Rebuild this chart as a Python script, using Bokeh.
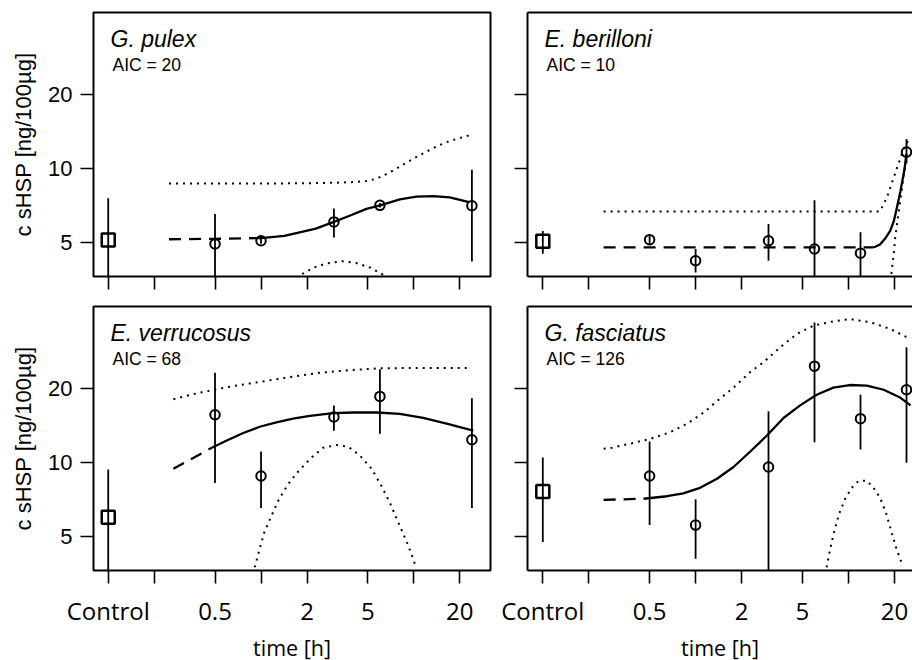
from bokeh.plotting import figure
from bokeh.layouts import column, row
from bokeh.models import FixedTicker, LogAxis, Label, Range1d
from bokeh.embed import file_html
from bokeh.resources import INLINE

# ---------------- data ----------------
control_x = 0.1
x_ticks = [0.1, 0.2, 0.5, 1, 2, 5, 10, 20]
x_tick_labels = ["Control", "", "0.5", "", "2", "5", "", "20"]
y_ticks = [5, 10, 20]
y_tick_labels = ["5", "10", "20"]

species = ["G. pulex", "E. berilloni", "E. verrucosus", "G. fasciatus"]
aic = [20, 10, 68, 126]

# G. pulex
gp_t = [0.5, 1, 3, 6, 24]
gp_mean = [4.94, 5.09, 6.07, 7.09, 7.06]
gp_lo = [3.0, 4.95, 5.25, 6.95, 4.19]
gp_hi = [6.54, 5.25, 6.89, 7.25, 9.9]
gp_ctrl = [5.13, 3.0, 7.57]  # mean, lo, hi
gp_dash_t = [0.25, 0.5, 1]
gp_dash_v = [5.16, 5.18, 5.22]
gp_fit_t = [1, 1.42, 1.79, 2.28, 3.0, 3.8, 4.9, 6.1, 8.1, 10.4, 13.4, 17.2, 23]
gp_fit_v = [5.22, 5.33, 5.50, 5.70, 6.07, 6.43, 6.86, 7.10, 7.50, 7.70, 7.73, 7.64, 7.30]
gp_up_t = [0.25, 0.5, 1, 2, 3, 4, 4.9, 5.7, 6.6, 7.7, 9, 10.5, 12, 14, 16.3, 19, 22.3, 24.5]
gp_up_v = [8.7, 8.7, 8.7, 8.72, 8.76, 8.82, 8.9, 9.1, 9.5, 10.0, 10.6, 11.2, 11.7, 12.3, 12.8, 13.2, 13.6, 13.6]
gp_low_t = [1.6, 1.85, 2.2, 2.7, 3.4, 4.2, 5.2, 6.2, 7.2]
gp_low_v = [3.4, 3.72, 3.95, 4.12, 4.2, 4.13, 3.95, 3.72, 3.45]

# E. berilloni
eb_t = [0.5, 1, 3, 6, 12, 24]
eb_mean = [5.14, 4.22, 5.09, 4.71, 4.53, 11.68]
eb_lo = [4.9, 3.78, 4.22, 3.0, 3.0, 10.5]
eb_hi = [5.4, 4.71, 5.96, 7.44, 5.51, 13.2]
eb_ctrl = [5.06, 4.5, 5.58]
eb_dash_t = [0.25, 14.5]
eb_dash_v = [4.78, 4.78]
eb_fit_t = [14.5, 15.0, 16.1, 17.3, 18.8, 19.8, 20.8, 21.9, 23.2, 24]
eb_fit_v = [4.78, 4.81, 4.91, 5.17, 5.59, 6.1, 6.97, 8.1, 9.8, 11.5]
eb_up_t = [0.25, 16.1, 17.9, 19.8, 21.4, 23.2, 24.8]
eb_up_v = [6.7, 6.7, 7.65, 9.2, 10.6, 12.2, 13.1]
eb_low_t = [19.1, 19.8, 20.3, 21.4, 22.3, 23.2, 24]
eb_low_v = [3.73, 4.5, 5.34, 6.74, 8.1, 9.7, 11.1]

# E. verrucosus
ev_t = [0.5, 1, 3, 6, 24]
ev_mean = [15.67, 8.82, 15.34, 18.6, 12.4]
ev_lo = [8.26, 6.54, 13.5, 13.1, 6.54]
ev_hi = [23.2, 11.1, 17.1, 24.0, 18.3]
ev_ctrl = [6.0, 3.0, 9.38]
ev_dash_t = [0.267, 0.476]
ev_dash_v = [9.44, 11.5]
ev_fit_t = [0.476, 0.597, 0.765, 0.98, 1.26, 1.62, 2.09, 2.96, 4.02, 5.72, 8.1, 11.5, 16.4, 24.5]
ev_fit_v = [11.5, 12.3, 13.2, 14.0, 14.6, 15.1, 15.5, 15.9, 16.0, 16.0, 15.8, 15.2, 14.4, 13.5]
ev_up_t = [0.267, 0.36, 0.49, 0.66, 0.98, 1.55, 2.42, 3.8, 6.0, 11.0, 23.3]
ev_up_v = [18.1, 19.0, 19.8, 20.5, 21.3, 22.3, 23.2, 23.8, 24.2, 24.3, 24.3]
ev_low_t = [0.91, 0.98, 1.05, 1.16, 1.31, 1.51, 1.75, 2.14, 2.55, 3.13, 3.73, 4.43,
            5.3, 6.1, 6.95, 7.9, 9.0, 9.9, 10.3]
ev_low_v = [3.75, 4.46, 5.2, 6.0, 7.1, 8.2, 9.2, 10.5, 11.5, 11.8, 11.6, 10.7,
            9.44, 8.1, 6.9, 5.73, 4.75, 4.07, 3.75]

# G. fasciatus
gf_t = [0.5, 1, 3, 6, 12, 24]
gf_mean = [8.82, 5.57, 9.6, 24.7, 15.1, 19.8]
gf_lo = [5.57, 4.06, 2.5, 12.1, 11.3, 10.0]
gf_hi = [12.2, 7.1, 16.2, 37.2, 18.9, 29.5]
gf_ctrl = [7.63, 4.75, 10.5]
gf_dash_t = [0.25, 0.456]
gf_dash_v = [7.06, 7.13]
gf_fit_t = [0.456, 0.65, 0.83, 1.07, 1.38, 1.77, 2.28, 2.93, 3.76, 4.83, 6.2, 7.97,
            10.2, 13.2, 17.0, 21.8, 25.5]
gf_fit_v = [7.13, 7.3, 7.5, 7.9, 8.6, 9.6, 11.1, 12.9, 15.2, 17.1, 18.9, 20.2,
            20.7, 20.6, 19.8, 18.4, 17.1]
gf_up_t = [0.25, 0.284, 0.384, 0.505, 0.68, 0.88, 1.13, 1.41, 1.77, 2.28, 2.78, 3.58,
           4.6, 5.9, 7.97, 10.2, 13.9, 18.8, 24.1]
gf_up_v = [11.4, 11.5, 12.0, 12.5, 13.3, 14.4, 16.0, 18.0, 20.2, 23.4, 25.6, 29.5,
           33.4, 36.1, 37.6, 38.4, 37.3, 35.0, 32.4]
gf_low_t = [7.2, 7.6, 8.1, 8.7, 9.5, 10.5, 11.6, 13.2, 14.6, 16.1, 17.7, 19.3, 20.8, 22.2]
gf_low_v = [3.75, 4.46, 5.29, 6.2, 7.1, 7.9, 8.4, 8.46, 7.9, 7.2, 6.2, 5.13, 4.39, 3.94]

panels = [
    dict(t=gp_t, m=gp_mean, lo=gp_lo, hi=gp_hi, c=gp_ctrl, dt=gp_dash_t, dv=gp_dash_v,
         ft=gp_fit_t, fv=gp_fit_v, ut=gp_up_t, uv=gp_up_v, lt=gp_low_t, lv=gp_low_v),
    dict(t=eb_t, m=eb_mean, lo=eb_lo, hi=eb_hi, c=eb_ctrl, dt=eb_dash_t, dv=eb_dash_v,
         ft=eb_fit_t, fv=eb_fit_v, ut=eb_up_t, uv=eb_up_v, lt=eb_low_t, lv=eb_low_v),
    dict(t=ev_t, m=ev_mean, lo=ev_lo, hi=ev_hi, c=ev_ctrl, dt=ev_dash_t, dv=ev_dash_v,
         ft=ev_fit_t, fv=ev_fit_v, ut=ev_up_t, uv=ev_up_v, lt=ev_low_t, lv=ev_low_v),
    dict(t=gf_t, m=gf_mean, lo=gf_lo, hi=gf_hi, c=gf_ctrl, dt=gf_dash_t, dv=gf_dash_v,
         ft=gf_fit_t, fv=gf_fit_v, ut=gf_up_t, uv=gf_up_v, lt=gf_low_t, lv=gf_low_v),
]

# ---------------- styling / layout ----------------
FRAME_H = 264
Y_RANGE = (3.64, 43.2)
LEFT_X_RANGE = (0.0801, 31.76)
RIGHT_X_RANGE = (0.0794, 26.27)
TICK_FONT_Y = "Liberation Sans"
TICK_FONT_X = "Open Sans"


def hide_labels(ax):
    ax.major_label_text_font_size = "1px"
    ax.major_label_text_color = None
    ax.major_label_standoff = 0


def make_panel(i, is_left, is_bottom):
    d = panels[i]
    xr = LEFT_X_RANGE if is_left else RIGHT_X_RANGE
    fw = 397 if is_left else 385
    p = figure(
        x_axis_type="log", y_axis_type="log",
        x_range=Range1d(*xr), y_range=Range1d(*Y_RANGE),
        frame_width=fw, frame_height=FRAME_H,
        output_backend="svg", toolbar_location=None,
        min_border_left=93 if is_left else 27,
        min_border_right=10 if is_left else 0,
        min_border_top=10 if is_bottom else 12,
        min_border_bottom=90 if is_bottom else 20,
    )
    p.background_fill_color = "white"
    p.border_fill_color = "white"
    p.xgrid.visible = False
    p.ygrid.visible = False

    if is_left:
        p.outline_line_color = "black"
        p.outline_line_width = 2
        p.outline_line_alpha = 1
    else:
        p.outline_line_color = None

    # x axis
    xa = p.xaxis[0]
    xa.ticker = FixedTicker(ticks=x_ticks, minor_ticks=[])
    xa.major_label_overrides = {t: l for t, l in zip(x_ticks, x_tick_labels)}
    xa.major_tick_out = 13
    xa.major_tick_in = 0
    xa.minor_tick_out = 0
    xa.minor_tick_in = 0
    xa.major_tick_line_width = 1.6
    xa.major_tick_line_color = "black"
    xa.axis_line_color = None if is_left else "black"
    xa.axis_line_width = 2
    if is_bottom:
        xa.major_label_text_font = TICK_FONT_X
        xa.major_label_text_font_size = "24px"
        xa.major_label_text_color = "black"
        xa.major_label_standoff = 10
        xa.axis_label = "time [h]"
        xa.axis_label_text_font = TICK_FONT_X
        xa.axis_label_text_font_size = "21.5px"
        xa.axis_label_text_font_style = "normal"
        xa.axis_label_text_color = "black"
        xa.axis_label_standoff = 3
    else:
        hide_labels(xa)

    # y axis
    ya = p.yaxis[0]
    ya.ticker = FixedTicker(ticks=y_ticks, minor_ticks=[])
    ya.major_label_overrides = {t: l for t, l in zip(y_ticks, y_tick_labels)}
    ya.major_tick_out = 13
    ya.major_tick_in = 0
    ya.minor_tick_out = 0
    ya.minor_tick_in = 0
    ya.major_tick_line_width = 1.6
    ya.major_tick_line_color = "black"
    ya.axis_line_color = None if is_left else "black"
    ya.axis_line_width = 2
    if is_left:
        ya.major_label_text_font = TICK_FONT_Y
        ya.major_label_text_font_size = "22px"
        ya.major_label_text_color = "black"
        ya.major_label_standoff = 8
        ya.major_label_orientation = "horizontal"
        ya.axis_label = "c sHSP [ng/100µg]"
        ya.axis_label_text_font = TICK_FONT_Y
        ya.axis_label_text_font_size = "22px"
        ya.axis_label_text_font_style = "normal"
        ya.axis_label_text_color = "black"
        ya.axis_label_standoff = 9
    else:
        hide_labels(ya)

    if not is_left:
        top = LogAxis(ticker=FixedTicker(ticks=[], minor_ticks=[]),
                      axis_line_color="black", axis_line_width=2,
                      major_tick_out=0, major_tick_in=0,
                      minor_tick_out=0, minor_tick_in=0)
        hide_labels(top)
        p.add_layout(top, "above")

    # confidence bands (dotted)
    p.line(d["ut"], d["uv"], line_color="black", line_width=2, line_dash="2 5")
    p.line(d["lt"], d["lv"], line_color="black", line_width=2, line_dash="2 5")
    # fitted curve
    p.line(d["dt"], d["dv"], line_color="black", line_width=2.3, line_dash="12 8")
    p.line(d["ft"], d["fv"], line_color="black", line_width=2.3, line_join="round")

    # error bars
    p.segment(x0=d["t"], y0=d["lo"], x1=d["t"], y1=d["hi"], line_color="black", line_width=1.8)
    p.segment(x0=[control_x], y0=[d["c"][1]], x1=[control_x], y1=[d["c"][2]],
              line_color="black", line_width=1.8)
    # points
    p.scatter(d["t"], d["m"], marker="circle", size=9.5, fill_color=None,
              line_color="black", line_width=2)
    p.scatter([control_x], [d["c"][0]], marker="square", size=13, fill_color=None,
              line_color="black", line_width=2.5)

    # panel titles
    p.add_layout(Label(x=17, y=FRAME_H - 26, x_units="screen", y_units="screen",
                       text=species[i], text_font="Liberation Sans",
                       text_font_style="italic", text_font_size="23px",
                       text_color="black", text_baseline="alphabetic"))
    p.add_layout(Label(x=19, y=FRAME_H - 52, x_units="screen", y_units="screen",
                       text="AIC = %d" % aic[i], text_font="Liberation Sans",
                       text_font_size="17.5px", text_color="black",
                       text_baseline="alphabetic"))
    return p


p1 = make_panel(0, True, False)
p2 = make_panel(1, False, False)
p3 = make_panel(2, True, True)
p4 = make_panel(3, False, True)

layout = column(row(p1, p2), row(p3, p4))

open("out.html", "w").write(file_html(layout, INLINE))
